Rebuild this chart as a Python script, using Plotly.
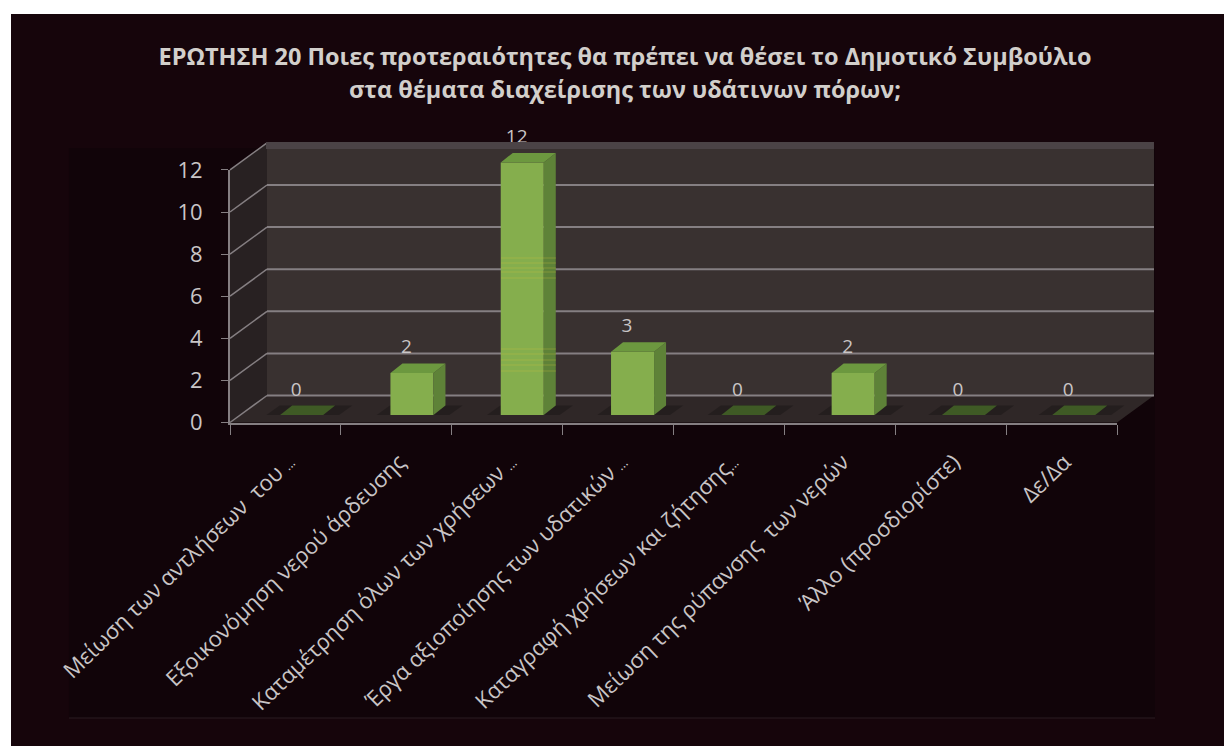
import plotly.graph_objects as go

categories = ["Μείωση των αντλήσεων  του ...", "Εξοικονόμηση νερού άρδευσης",
              "Καταμέτρηση όλων των χρήσεων ...", "Έργα αξιοποίησης των υδατικών ...",
              "Καταγραφή χρήσεων και ζήτησης...", "Μείωση της ρύπανσης  των νερών",
              "Άλλο (προσδιορίστε)", "Δε/Δα"]
values = [0, 2, 12, 3, 0, 2, 0, 0]
y_ticks = [0, 2, 4, 6, 8, 10, 12]
title_lines = ["ΕΡΩΤΗΣΗ 20 Ποιες προτεραιότητες θα πρέπει να θέσει το Δημοτικό Συμβούλιο",
               "στα θέματα διαχείρισης των υδάτινων πόρων;"]

W, H = 1224, 746
PXU = 21.05
def px(x): return x / W
def py(y): return 1 - y / H
TXT = "#c9c5c6"
FONT = "Open Sans"

labels = [c.replace("...", "<span style='font-size:13px'>...</span>") for c in categories]

fig = go.Figure()

def poly(xs, ys, color, layer="below", op=1):
    return dict(type="path", xref="paper", yref="paper", layer=layer, opacity=op,
                path="M" + " L".join(f"{px(a):.5f},{py(b):.5f}" for a, b in zip(xs, ys)) + " Z",
                fillcolor=color, line=dict(width=0))

def seg(x0, y0, x1, y1, color="#857f82", w=2, layer="below", op=1):
    return dict(type="line", xref="paper", yref="paper", layer=layer, opacity=op,
                x0=px(x0), y0=py(y0), x1=px(x1), y1=py(y1), line=dict(color=color, width=w))

FL, FR, FB = 230, 1117, 422.5     # front-left, front-right, front-bottom
BL, BR, BB = 267, 1154, 395.5     # back wall
shapes = [
    poly([11, W, W, 11], [14, 14, H, H], "#16050b"),
    poly([69, 1155, 1155, 69], [148, 148, 718, 718], "#110409"),
    seg(69, 718, 1155, 718, "#2a1c22", 1),
    poly([BL, BR, BR, BL], [BB, BB, BB - 12 * PXU - 1, BB - 12 * PXU - 1], "#393130"),
    poly([FL, BL, BL, FL], [FB, BB, BB - 12 * PXU - 1, FB - 12 * PXU], "#282122"),
    poly([FL, BL, BR, FR], [FB, BB, BB, FB], "#2f2727"),
]
for t in y_ticks:
    d = t * PXU
    if t < 12:
        shapes.append(seg(BL, BB - d, BR, BB - d))
    shapes.append(seg(FL, FB - d, BL, BB - d, "#857f82", 1.5))
# top edge of the back wall
shapes.append(poly([BL - 1, BR, BR, BL - 1], [142, 142, 149, 149], "#4b4346", layer="above"))
# scan artefacts on the tallest bar
for yy in [258, 263, 268, 272, 278, 349, 354, 360, 365, 371]:
    shapes.append(seg(501, yy, 556, yy, "#d8c43c", 1, layer="above", op=0.3))

# main axes: carry the axis lines, ticks and labels
fig.add_trace(go.Bar(x=labels, y=values, xaxis="x", yaxis="y", marker=dict(opacity=0),
                     hoverinfo="skip", showlegend=False))

# bars on axes displaced to the depth of the 3-D floor
BAR_W = 0.39
DX, DY = 12 / 110.3, 9.5 / PXU
idx = list(range(len(values)))
# soft shadows on the floor, underneath the bars
for i in idx:
    xs = [i - 0.32, i + 0.34, i + 0.46, i - 0.2]
    ys = [0, 0, DY, DY]
    shapes.append(dict(type="path", xref="x2", yref="y2", layer="below",
                       path="M" + " L".join(f"{a:.3f},{b:.3f}" for a, b in zip(xs, ys)) + " Z",
                       fillcolor="rgba(0,0,0,0.22)", line=dict(width=0)))
fig.add_trace(go.Bar(x=idx, y=[v if v > 0 else None for v in values], width=BAR_W,
                     xaxis="x2", yaxis="y2", marker=dict(color="#85ae4d", line=dict(width=0)),
                     showlegend=False, hoverinfo="skip"))
for i, v in zip(idx, values):
    l, r = i - BAR_W / 2, i + BAR_W / 2
    top = "#6c983f" if v > 0 else "#3f5a25"
    if v > 0:
        fig.add_trace(go.Scatter(x=[r, r + DX, r + DX, r, r], y=[0, DY, v + DY, v, 0],
                                 xaxis="x2", yaxis="y2", mode="lines", fill="toself",
                                 fillcolor="#5e8238", line=dict(width=0),
                                 showlegend=False, hoverinfo="skip"))
    fig.add_trace(go.Scatter(x=[l, r, r + DX, l + DX, l], y=[v, v, v + DY, v + DY, v],
                             xaxis="x2", yaxis="y2", mode="lines", fill="toself",
                             fillcolor=top, line=dict(width=0),
                             showlegend=False, hoverinfo="skip"))
fig.add_trace(go.Scatter(x=[i - 0.05 for i in idx], y=[v + 1.15 for v in values],
                         text=[str(v) for v in values], mode="text", xaxis="x2", yaxis="y2",
                         textposition="middle center",
                         textfont=dict(family=FONT, size=19, color=TXT),
                         showlegend=False, hoverinfo="skip"))

X2L, X2R = 246.5, 1128.9
Y2B = 415
Y2MAX = 14
fig.update_layout(
    width=W, height=H, margin=dict(l=0, r=0, t=0, b=0), template="none",
    paper_bgcolor="#ffffff", plot_bgcolor="rgba(0,0,0,0)",
    shapes=shapes, barmode="overlay",
    title=dict(text="<br>".join(f"<span style='font-size:23.5px'>{s}</span>" for s in title_lines),
               x=625 / W, xanchor="center", y=1 - 65 / H, yanchor="top", automargin=False,
               font=dict(family=FONT, size=25.5, color="#d2cfcb", weight="bold")),
    xaxis=dict(domain=[px(FL), px(FR)], type="category", categoryorder="array",
               categoryarray=labels, tickson="boundaries", ticks="outside", ticklen=10,
               tickcolor="#857f82", linecolor="#857f82", linewidth=2, showgrid=False,
               tickangle=-44, tickfont=dict(family=FONT, size=22, color=TXT), automargin=False,
               ticklabelstandoff=16, ticklabelshift=3, anchor="y", fixedrange=True),
    yaxis=dict(domain=[py(FB), py(FB - 12 * PXU)], range=[0, 12], tickvals=y_ticks,
               ticks="outside", ticklen=7, tickcolor="#857f82", linecolor="#857f82",
               linewidth=2, showgrid=False, zeroline=False, automargin=False,
               ticklabelstandoff=14, tickfont=dict(family=FONT, size=22, color=TXT),
               anchor="x", fixedrange=True),
    xaxis2=dict(domain=[px(X2L), px(X2R)], range=[-0.5, 7.5], visible=False,
                anchor="y2", fixedrange=True, automargin=False),
    yaxis2=dict(domain=[py(Y2B), py(Y2B - Y2MAX * PXU)], range=[0, Y2MAX], visible=False,
                anchor="x2", fixedrange=True, automargin=False),
)

fig.write_html("out.html", config=dict(displayModeBar=False),
               post_script="document.body.style.margin='0';document.body.style.overflow='hidden';")
